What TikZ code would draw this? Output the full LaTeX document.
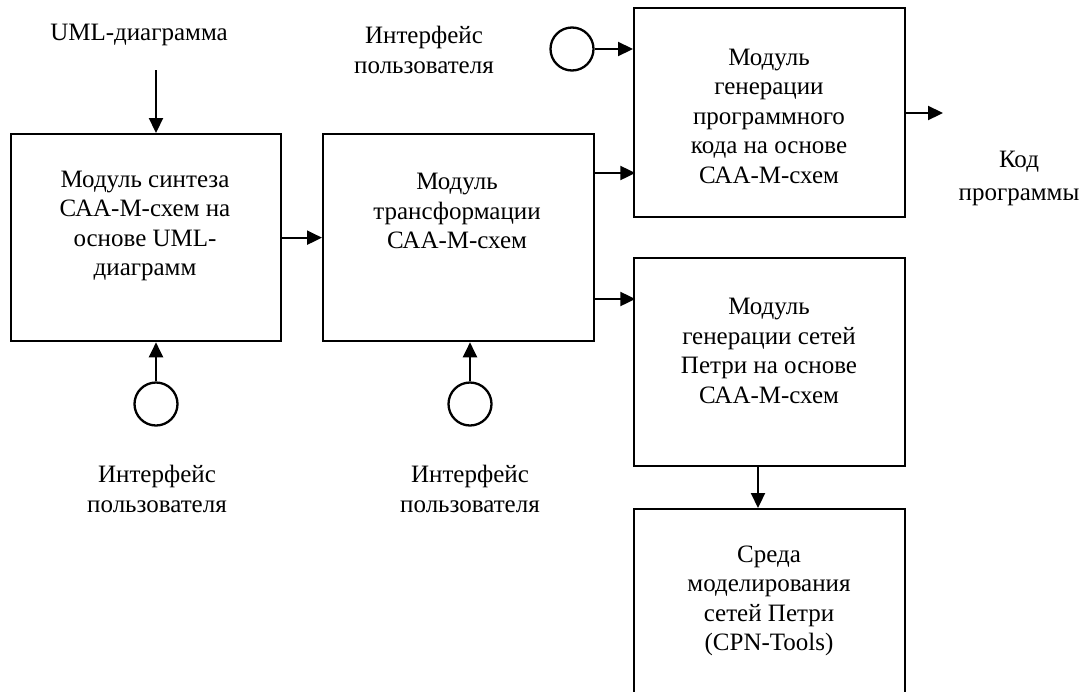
\documentclass[tikz,border=0pt]{standalone}
\usepackage{fontspec}
\setmainfont{Liberation Serif}
\usetikzlibrary{arrows.meta,calc}
\tikzset{
  box/.style={draw,line width=2.3pt,rectangle,inner sep=0pt,anchor=north west},
  lbl/.style={align=center,font=\fontsize{25}{29.5}\selectfont,inner sep=0pt},
  iface/.style={draw,line width=2.3pt,circle,minimum size=43pt,inner sep=0pt},
  arr/.style={line width=2.2pt,-{Triangle[length=15pt,width=14pt]}},
}
\begin{document}
\begin{tikzpicture}[x=1pt,y=-1pt]
\useasboundingbox (0,0) rectangle (1086,691);
\clip (0,0) rectangle (1086,691);
% boxes
\node[box,minimum width=270pt,minimum height=207pt] (b1) at (10,133) {};
\node[box,minimum width=271pt,minimum height=207pt] (b2) at (322,133) {};
\node[box,minimum width=271pt,minimum height=209pt] (b3) at (633,7) {};
\node[box,minimum width=271pt,minimum height=208pt] (b4) at (633,257) {};
\node[box,minimum width=271pt,minimum height=200pt] (b5) at (633,508) {};
% box texts
\node[lbl] (b1t) at (145,226) {Модуль синтеза\\САА-М-схем на\\основе UML-\\диаграмм};
\node[lbl] (b2t) at (457,211) {Модуль\\трансформации\\САА-М-схем};
\node[lbl] (b3t) at (769,116) {Модуль\\генерации\\программного\\кода на основе\\САА-М-схем};
\node[lbl] (b4t) at (769,351) {Модуль\\генерации сетей\\Петри на основе\\САА-М-схем};
\node[lbl] (b5t) at (769,601) {Среда\\моделирования\\сетей Петри\\(CPN-Tools)};
% outside labels
\node[lbl] (uml) at (139,35) {UML-диаграмма};
\node[lbl] (ui3) at (424,50) {Интерфейс\\пользователя};
\node[lbl] (ui1) at (157,489) {Интерфейс\\пользователя};
\node[lbl] (ui2) at (470,489) {Интерфейс\\пользователя};
\node[lbl,font=\fontsize{25}{33}\selectfont] (code) at (1019,178) {Код\\программы};
% interface circles
\node[iface] (c3) at (572,49) {};
\node[iface] (c1) at (156,404) {};
\node[iface] (c2) at (470,404) {};
% coordinates
\coordinate (umlin) at (156,70);
\coordinate (out) at (943,113);
% connectors
\draw[arr] (umlin) -- (umlin |- b1.north);
\draw[arr] (b1.east) -- (b2.west);
\draw[arr] ($(b2.north east)+(0,40)$) -- ($(b2.north east)+(40,40)$);
\draw[arr] ($(b2.north east)+(0,166)$) -- ($(b2.north east)+(40,166)$);
\draw[arr] (c3.east) -- (c3.east -| b3.west);
\draw[arr] (b3.east |- out) -- (out);
\draw[arr] (c1.north) -- (c1.north |- b1.south);
\draw[arr] (c2.north) -- (c2.north |- b2.south);
\draw[arr] ($(b4.south west)+(125,0)$) -- ($(b5.north west)+(125,0)$);
\end{tikzpicture}
\end{document}
